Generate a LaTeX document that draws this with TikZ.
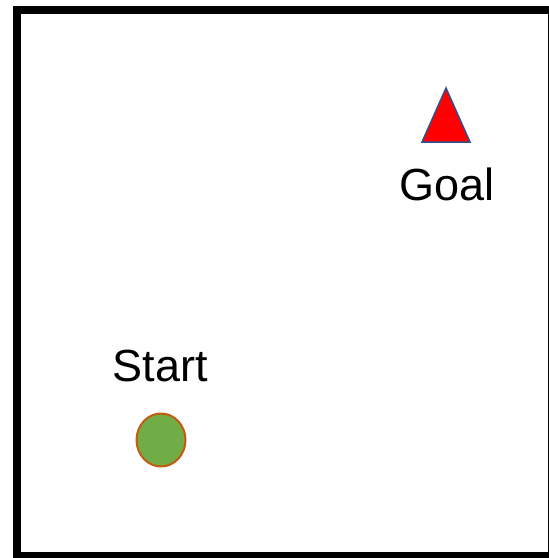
\documentclass[tikz,border=0pt]{standalone}
\usepackage{fontspec}
\setmainfont{Liberation Sans}
\usepackage{tikz}
\usetikzlibrary{shapes.geometric}
\definecolor{goalred}{HTML}{FF0000}
\definecolor{goalline}{HTML}{2F528F}
\definecolor{startgreen}{HTML}{70AD47}
\definecolor{startline}{HTML}{C55A11}
\tikzset{
  % --- Rahmen -----------------------------------------------
  arena/.style={draw=black, line width=8pt},
  % --- Marken -----------------------------------------------
  goalmark/.style={fill=goalred, draw=goalline, line width=1.5pt, line join=miter},
  startmark/.style={draw=startline, fill=startgreen, ellipse, line width=2pt,
    minimum width=49pt, minimum height=53pt, inner sep=0pt},
  marklbl/.style={font=\fontsize{45}{54}\selectfont, anchor=base, inner sep=0pt}
}
\begin{document}
\begin{tikzpicture}[x=1pt, y=-1pt]
  \useasboundingbox (0,0) rectangle (549,558);
  \clip (0,0) rectangle (549,558);

  % --- Feld ---------------------------------------------------
  \draw[arena] (17,10) rectangle (552,556);

  % --- Ziel ---------------------------------------------------
  \coordinate (goaltip) at (446,88);
  \coordinate (goalleft) at (422,142);
  \coordinate (goalright) at (470,142);
  \draw[goalmark] (goaltip) -- (goalleft) -- (goalright) -- cycle;
  \node[marklbl] (goal) at (447,200) {Goal};

  % --- Start --------------------------------------------------
  \node[marklbl] (start) at (160,381) {Start};
  \node[startmark] (startpos) at (161,440) {};

\end{tikzpicture}
\end{document}
